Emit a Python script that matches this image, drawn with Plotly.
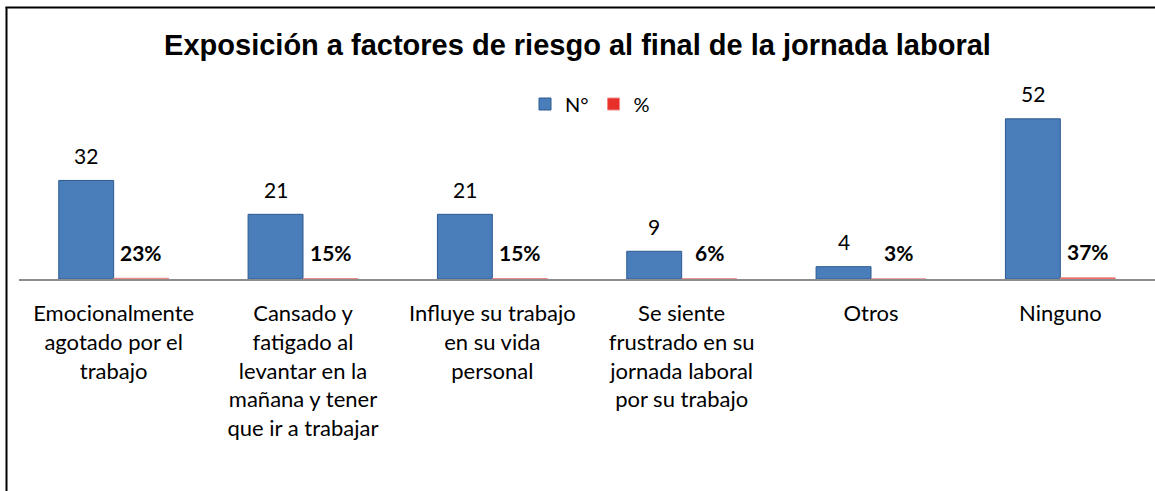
import plotly.graph_objects as go

categories = [
    "Emocionalmente<br>agotado por el<br>trabajo",
    "Cansado y<br>fatigado al<br>levantar en la<br>mañana y tener<br>que ir a trabajar",
    "Influye su trabajo<br>en su vida<br>personal",
    "Se siente<br>frustrado en su<br>jornada laboral<br>por su trabajo",
    "Otros",
    "Ninguno",
]
counts = [32, 21, 21, 9, 4, 52]
percents = [0.23, 0.15, 0.15, 0.06, 0.03, 0.37]
series_names = ["N°", "%"]
title_text = "Exposición a factores de riesgo al final de la jornada laboral"

W, H = 1155, 491
ML, MR, MT, MB = 19, 0, 100, 212
PW = W - ML - MR
PH = H - MT - MB
BASE_FONT = "Lato, 'Open Sans', sans-serif"

def px_x(p):
    return (p - ML) / PW

def px_y(p):
    return (H - MB - p) / PH

fig = go.Figure()
fig.add_trace(go.Bar(
    x=categories, y=counts, name=series_names[0],
    marker=dict(color="#4a7ebb", line=dict(color="#2c5a90", width=1)),
))
fig.add_trace(go.Bar(
    x=categories, y=percents, name=series_names[1],
    marker=dict(color="#e8302b", line=dict(color="#ef8a88", width=1)),
))

ann = []
for c, n, p in zip(categories, counts, percents):
    ann.append(dict(x=c, y=n, text=str(n), showarrow=False, xshift=-27.5,
                    yanchor="middle", yshift=25,
                    font=dict(family=BASE_FONT, size=21, color="#000")))
    ann.append(dict(x=c, y=p, text=f"<b>{round(p*100)}%</b>", showarrow=False, xshift=27.5,
                    yanchor="middle", yshift=26,
                    font=dict(family=BASE_FONT, size=21, color="#000")))

shapes = [
    dict(type="line", xref="paper", yref="paper", x0=px_x(6.5), x1=px_x(6.5),
         y0=px_y(7), y1=px_y(H + 5), line=dict(color="#000", width=2)),
    dict(type="line", xref="paper", yref="paper", x0=px_x(5.5), x1=px_x(W + 5),
         y0=px_y(7.5), y1=px_y(7.5), line=dict(color="#000", width=2)),
]

fig.update_layout(
    width=W, height=H,
    margin=dict(l=ML, r=MR, t=MT, b=MB),
    paper_bgcolor="white", plot_bgcolor="white",
    barmode="group", bargap=0.42, bargroupgap=0,
    title=dict(text=f"<b>{title_text}</b>", x=0.5, xanchor="center",
               y=1 - 45 / H, yanchor="middle",
               font=dict(family="Liberation Sans, Arial, sans-serif", size=29, color="#000")),
    legend=dict(orientation="h", x=px_x(590), xanchor="center", y=px_y(104), yanchor="middle",
                font=dict(family=BASE_FONT, size=20, color="#000"),
                itemwidth=30, tracegroupgap=0, bgcolor="rgba(0,0,0,0)"),
    xaxis=dict(showline=True, linecolor="#8c8c8c", linewidth=2, ticks="",
               tickfont=dict(family=BASE_FONT, size=22, color="#000"),
               ticklabelstandoff=14,
               showgrid=False, zeroline=False),
    yaxis=dict(range=[0, PH / 3.08], visible=False, showgrid=False, zeroline=False),
    annotations=ann,
    shapes=shapes,
    showlegend=True,
)

fig.write_html("out.html", config={"displayModeBar": False},
               post_script="document.body.style.margin='0';document.body.style.overflow='hidden';")
